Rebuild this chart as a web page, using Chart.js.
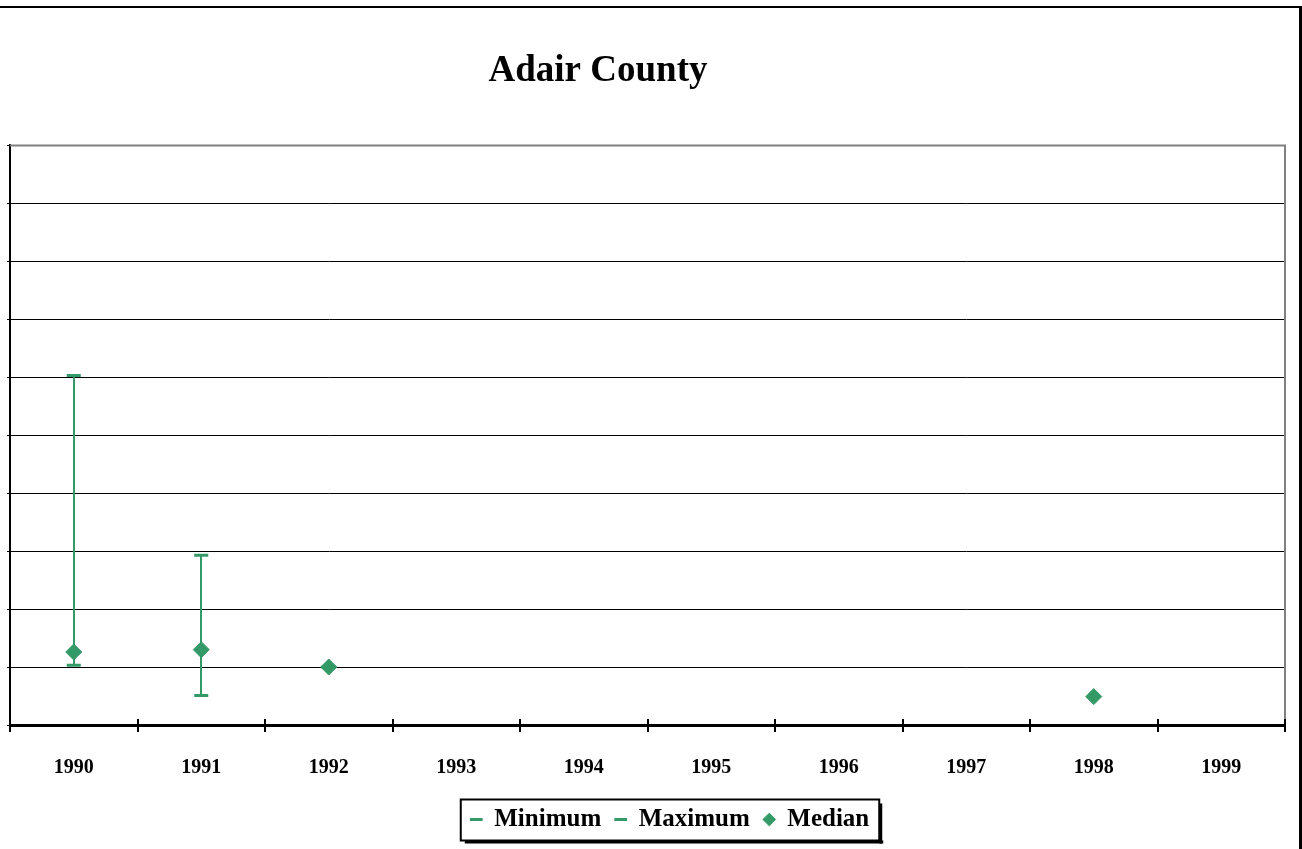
<!DOCTYPE html>
<html>
<head>
<meta charset="utf-8">
<title>Adair County</title>
<script src="https://cdn.jsdelivr.net/npm/chart.js@4/dist/chart.umd.min.js"></script>
<style>
    html, body { margin: 0; padding: 0; background: #ffffff; overflow: hidden; }
    #chart { display: block; }
</style>
</head>
<body>
<canvas id="chart" width="1302" height="849"></canvas>
<script>
// values (y axis has no labels, 10 gridline steps)
const years = ['1990', '1991', '1992', '1993', '1994', '1995', '1996', '1997', '1998', '1999'];
const minimum = [1.03, 0.51, 1.0, null, null, null, null, null, null, null];
const maximum = [6.03, 2.93, 1.0, null, null, null, null, null, null, null];
const median = [1.26, 1.30, 1.0, null, null, null, null, null, 0.49, null];

const green = '#339966';
const serif = "'Liberation Serif', 'Times New Roman', serif";

// vertical min-max bars, legend box and chart frame
const extras = {
    id: 'extras',
    afterLayout(chart) {
        const lg = chart.legend;
        const shift = 670 - (lg.left + lg.right) / 2;
        lg.left += shift;
        lg.right += shift;
        const tb = chart.titleBlock;
        const tshift = 598 - (tb.left + tb.right) / 2;
        tb.left += tshift;
        tb.right += tshift;
    },
    beforeDatasetsDraw(chart) {
        const ctx = chart.ctx;
        const x = chart.scales.x, y = chart.scales.y;
        ctx.save();
        ctx.strokeStyle = green;
        ctx.lineWidth = 2;
        years.forEach((yr, i) => {
            if (minimum[i] == null || maximum[i] == null) return;
            const px = Math.round(x.getPixelForValue(i));
            ctx.beginPath();
            ctx.moveTo(px, y.getPixelForValue(minimum[i]));
            ctx.lineTo(px, y.getPixelForValue(maximum[i]));
            ctx.stroke();
        });
        ctx.restore();
    },
    afterDraw(chart) {
        const ctx = chart.ctx;
        const a = chart.chartArea;
        const x = chart.scales.x;
        ctx.save();
        // plot area frame (grey top and right)
        ctx.strokeStyle = '#808080';
        ctx.lineWidth = 2;
        ctx.beginPath();
        ctx.moveTo(a.left, a.top);
        ctx.lineTo(a.right, a.top);
        ctx.lineTo(a.right, a.bottom);
        ctx.stroke();

        // category tick marks also poke above the axis
        ctx.strokeStyle = '#000000';
        ctx.lineWidth = 2;
        for (let i = 0; i <= years.length; i++) {
            const px = Math.round(x.getPixelForTick(Math.min(i, years.length - 1)) +
                (i === years.length ? x.width / years.length / 2 : -x.width / years.length / 2));
            ctx.beginPath();
            ctx.moveTo(px, a.bottom - 6);
            ctx.lineTo(px, a.bottom);
            ctx.stroke();
        }

        // legend box with shadow
        const boxes = chart.legend.legendHitBoxes;
        if (boxes && boxes.length) {
            const l = Math.min(...boxes.map(b => b.left)) - 10;
            const r = Math.max(...boxes.map(b => b.left + b.width)) + 10;
            const cy = boxes[0].top + boxes[0].height / 2;
            const t = cy - 20, b = cy + 21;
            ctx.fillStyle = '#000000';
            ctx.fillRect(l + 4, b, r - l, 3);
            ctx.fillRect(r, t + 4, 3, b - t - 1);
            ctx.strokeStyle = '#000000';
            ctx.lineWidth = 2;
            ctx.strokeRect(l, t, r - l, b - t);
        }

        // outer chart frame (top and right edges visible)
        ctx.fillStyle = '#000000';
        ctx.fillRect(0, 6, 1301, 2);
        ctx.fillRect(1299, 6, 3, 843);
        ctx.restore();
    }
};

new Chart(document.getElementById('chart'), {
    type: 'line',
    data: {
        labels: years,
        datasets: [
            {
                label: 'Minimum',
                data: minimum,
                showLine: false,
                pointStyle: 'line',
                pointRadius: 7,
                borderWidth: 3,
                borderColor: green,
                backgroundColor: green
            },
            {
                label: 'Maximum',
                data: maximum,
                showLine: false,
                pointStyle: 'line',
                pointRadius: 7,
                borderWidth: 3,
                borderColor: green,
                backgroundColor: green
            },
            {
                label: 'Median',
                data: median,
                showLine: false,
                pointStyle: 'rectRot',
                pointRadius: 8,
                borderWidth: 1,
                borderColor: green,
                backgroundColor: green
            }
        ]
    },
    options: {
        responsive: false,
        animation: false,
        events: [],
        layout: { padding: { left: 0, right: 17, top: 0, bottom: 7 } },
        scales: {
            x: {
                offset: true,
                grid: {
                    offset: true,
                    drawOnChartArea: false,
                    drawTicks: true,
                    tickLength: 7,
                    color: '#000000',
                    lineWidth: 2
                },
                border: { color: '#000000', width: 3 },
                ticks: {
                    color: '#000000',
                    padding: 24,
                    maxRotation: 0,
                    font: { family: serif, size: 20, weight: 'bold' }
                },
                afterFit(scale) { scale.height = 68; }
            },
            y: {
                min: 0,
                max: 10,
                ticks: { display: false, stepSize: 1 },
                grid: {
                    color: '#000000',
                    lineWidth: 1,
                    drawTicks: true,
                    tickLength: 3
                },
                border: { color: '#000000', width: 2 },
                afterFit(scale) { scale.width = 9; }
            }
        },
        plugins: {
            tooltip: { enabled: false },
            title: {
                display: true,
                text: 'Adair County',
                color: '#000000',
                font: { family: serif, size: 37, weight: 'bold', lineHeight: 1.2 },
                padding: { top: 49, bottom: 52 }
            },
            legend: {
                display: true,
                position: 'bottom',
                labels: {
                    usePointStyle: true,
                    boxWidth: 11,
                    boxHeight: 9,
                    padding: 14,
                    color: '#000000',
                    font: { family: serif, size: 25, weight: 'bold' }
                }
            }
        }
    },
    plugins: [extras]
});
</script>
</body>
</html>
